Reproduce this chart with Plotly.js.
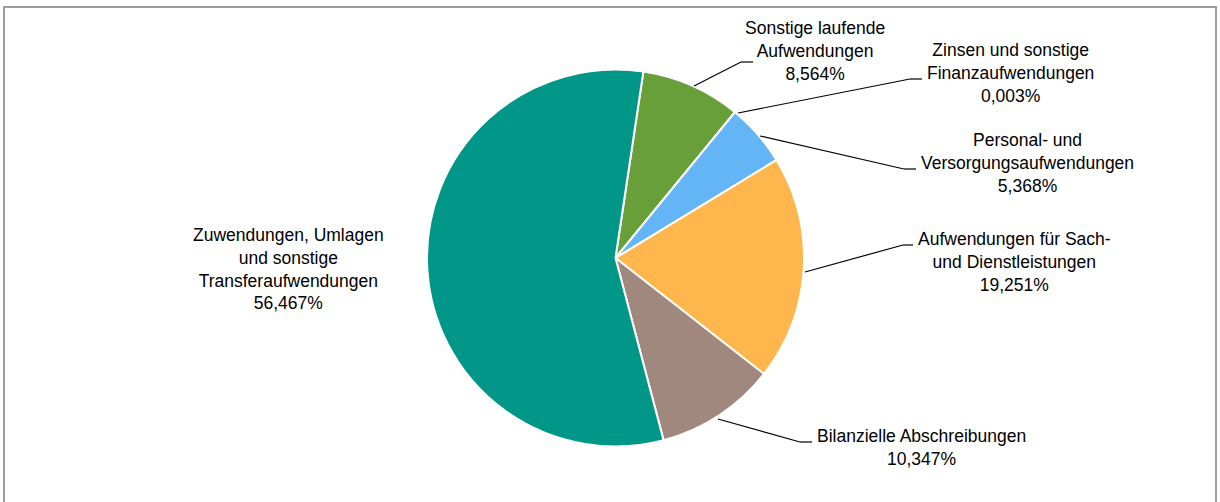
<!DOCTYPE html>
<html>
<head>
<meta charset="utf-8">
<script src="https://cdn.plot.ly/plotly-3.0.1.min.js"></script>
<style>html,body{margin:0;padding:0;background:#fff;}#chart{width:1220px;height:502px;}</style>
</head>
<body>
<div id="chart"></div>
<script>
// Data
var categories = [
  "Sonstige laufende Aufwendungen",
  "Zinsen und sonstige Finanzaufwendungen",
  "Personal- und Versorgungsaufwendungen",
  "Aufwendungen für Sach- und Dienstleistungen",
  "Bilanzielle Abschreibungen",
  "Zuwendungen, Umlagen und sonstige Transferaufwendungen"
];
var shares = [8.564, 0.003, 5.368, 19.251, 10.347, 56.467];
var labelLines = [
  ["Sonstige laufende", "Aufwendungen"],
  ["Zinsen und sonstige", "Finanzaufwendungen"],
  ["Personal- und", "Versorgungsaufwendungen"],
  ["Aufwendungen für Sach-", "und Dienstleistungen"],
  ["Bilanzielle Abschreibungen"],
  ["Zuwendungen, Umlagen", "und sonstige", "Transferaufwendungen"]
];
var sliceColors = ["#689F38", "#E57373", "#64B5F6", "#FFB74D", "#A1887F", "#009688"];

// Layout helpers (pixel -> paper)
var W = 1220, H = 502;
function px(x) { return x / W; }
function py(y) { return 1 - y / H; }

// label placement (pixel centers) and leader lines (pixel points)
var labelPos = [[815, 51], [1010, 73], [1027, 163], [1014, 262], [921, 447], [288, 269]];
var leaders = [
  [[694, 86], [741, 62], [753, 62]],
  [[738, 113], [910, 79], [922, 79]],
  [[760, 136], [904, 169], [916, 169]],
  [[805, 272], [903, 245], [913, 245]],
  [[718, 419], [800, 442], [812, 442]],
  null
];

function fmt(v) { return v.toFixed(3).replace(".", ",") + "%"; }

var cx = 615.5, cy = 258, r = 188.5;

var trace = {
  type: "pie",
  labels: categories,
  values: shares,
  sort: false,
  direction: "clockwise",
  rotation: 8.5,
  textinfo: "none",
  hoverinfo: "label+percent",
  marker: { colors: sliceColors, line: { color: "#ffffff", width: 2 } },
  domain: { x: [px(cx - r), px(cx + r)], y: [py(cy + r), py(cy - r)] },
  showlegend: false
};

var annotations = categories.map(function (c, i) {
  return {
    xref: "paper", yref: "paper",
    x: px(labelPos[i][0]), y: py(labelPos[i][1]),
    xanchor: "center", yanchor: "middle",
    align: "center",
    showarrow: false,
    text: labelLines[i].concat([fmt(shares[i])]).join("<br>"),
    font: { family: "Liberation Sans, Arial, sans-serif", size: 17.5, color: "#000000" }
  };
});

var shapes = [];
leaders.forEach(function (pts) {
  if (!pts) return;
  for (var k = 0; k < pts.length - 1; k++) {
    shapes.push({
      type: "line", xref: "paper", yref: "paper",
      x0: px(pts[k][0]), y0: py(pts[k][1]), x1: px(pts[k + 1][0]), y1: py(pts[k + 1][1]),
      line: { color: "#000000", width: 1.2 }
    });
  }
});
// chart frame
shapes.push({
  type: "rect", xref: "paper", yref: "paper",
  x0: px(4), x1: px(1216), y0: py(510), y1: py(7),
  line: { color: "#9E9E9E", width: 2 }, fillcolor: "rgba(0,0,0,0)", layer: "below"
});

var layout = {
  width: W, height: H,
  margin: { l: 0, r: 0, t: 0, b: 0 },
  paper_bgcolor: "#ffffff",
  plot_bgcolor: "#ffffff",
  annotations: annotations,
  shapes: shapes,
  font: { family: "Liberation Sans, Arial, sans-serif" }
};

Plotly.newPlot("chart", [trace], layout, { displayModeBar: false, staticPlot: true });
</script>
</body>
</html>
